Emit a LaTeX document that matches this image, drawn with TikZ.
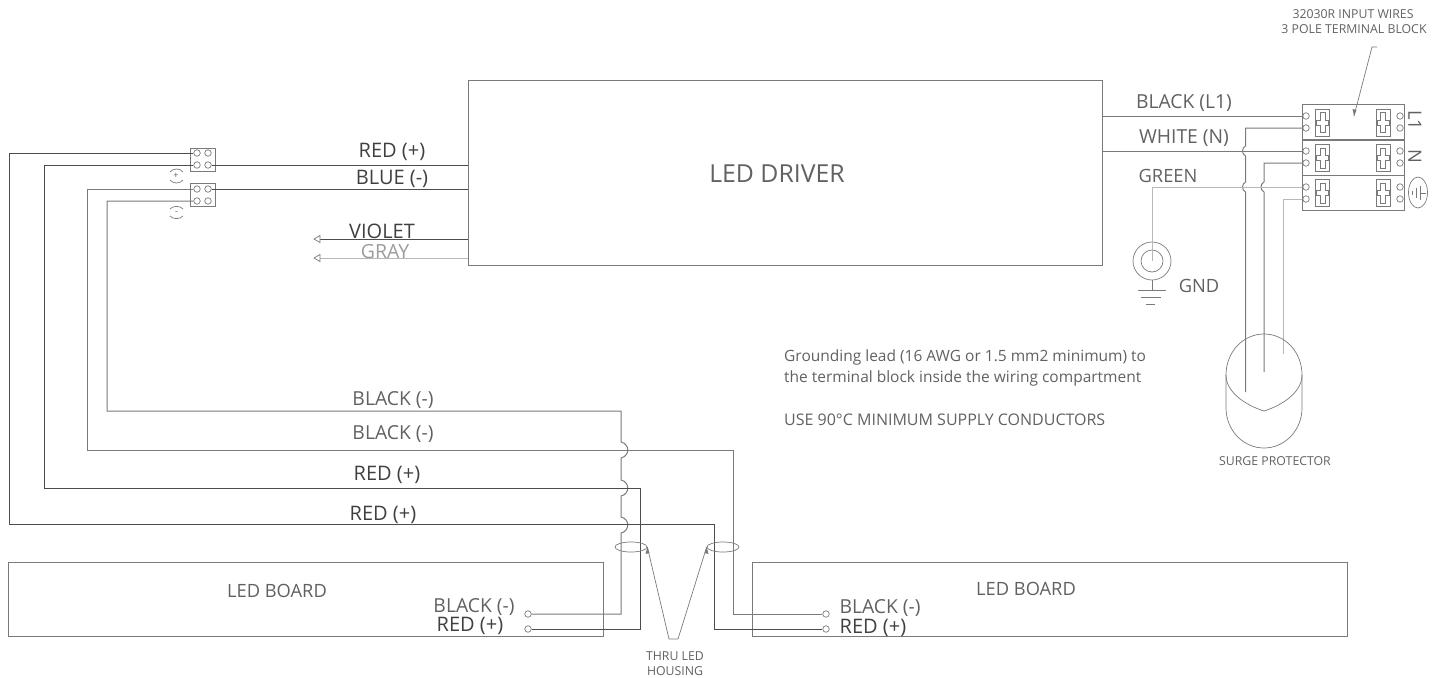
\documentclass[tikz,border=0pt]{standalone}
\usepackage{fontspec}
\setmainfont{Open Sans}
\usetikzlibrary{shapes.geometric,calc}
\definecolor{wdark}{gray}{0.30}
\definecolor{wmid}{gray}{0.48}
\definecolor{wlight}{gray}{0.72}
\definecolor{txt}{gray}{0.38}
\newcommand{\JumpR}[2]{-- (#1,#2-8) .. controls (#1+9,#2-6) and (#1+9,#2+6) .. (#1,#2+8)}
\newcommand{\JumpL}[2]{-- (#1,#2-5) .. controls (#1-4,#2-3) and (#1-4,#2+3) .. (#1,#2+5)}
\tikzset{
  wire/.style={draw=wmid,line width=1pt},
  darkwire/.style={draw=wdark,line width=1pt},
  lightwire/.style={draw=wlight,line width=1pt},
  box/.style={draw=wmid,line width=1pt,fill=none},
  thin line/.style={draw=wmid,line width=0.7pt},
  lug/.style={circle,draw=wmid,line width=0.7pt,minimum size=6.5pt,inner sep=0pt},
  lab/.style={inner sep=0pt,text=txt,font=\fontsize{19.3}{19.3}\selectfont,anchor=center},
  labs/.style={lab,font=\fontsize{18.3}{18.3}\selectfont},
  darklab/.style={lab,text=black!75,font=\fontsize{20}{20}\selectfont},
  note/.style={inner sep=0pt,text=txt,font=\fontsize{15.5}{15.5}\selectfont,anchor=west},
  cad/.style={inner sep=0pt,text=txt,font=\fontsize{12.3}{12.3}\selectfont,anchor=center},
  opentip/.style={draw=wmid,line width=0.7pt,fill=white},
}
\begin{document}
\begin{tikzpicture}[x=1pt,y=-1pt]
\useasboundingbox (0,0) rectangle (1447,677);
% main boxes
\node[box,minimum width=634pt,minimum height=185pt,inner sep=0pt] (driver) at (785,172.5) {};
\node[lab,font=\fontsize{24.8}{24.8}\selectfont] (drivert) at (777,174) {LED DRIVER};
\node[box,minimum width=595pt,minimum height=74pt,inner sep=0pt] (boardL) at (305.5,599) {};
\node[box,minimum width=595pt,minimum height=74pt,inner sep=0pt] (boardR) at (1049.5,599) {};
\node[labs] (boardLt) at (277,591) {LED BOARD};
\node[labs] (boardRt) at (1026,589) {LED BOARD};
% left connectors
\node[box,minimum width=25pt,minimum height=23pt,inner sep=0pt] (c1) at (202.5,159.5) {};
\node[box,minimum width=25pt,minimum height=23pt,inner sep=0pt] (c2) at (202.5,194.5) {};
\node[lug] (a1) at (197,153) {}; \node[lug] (a2) at (208,153) {};
\node[lug] (a3) at (197,165) {}; \node[lug] (a4) at (208,165) {};
\node[lug] (b1) at (197,189) {}; \node[lug] (b2) at (208,189) {};
\node[lug] (b3) at (197,201) {}; \node[lug] (b4) at (208,201) {};
\draw[thin line] (170,172) .. controls (173,168) and (180,168) .. (183,172);
\draw[thin line] (170,180) .. controls (173,184) and (180,184) .. (183,180);
\draw[thin line] (170,209) .. controls (173,205.5) and (180,205.5) .. (183,209);
\draw[thin line] (170,216) .. controls (173,219.5) and (180,219.5) .. (183,216);
\node[inner sep=0pt,text=txt,font=\fontsize{9}{9}\selectfont] (plus) at (176,176) {+};
\node[inner sep=0pt,text=txt,font=\fontsize{9}{9}\selectfont] (minus) at (176.5,213) {-};
% driver outputs
\coordinate (rd) at (468,165); \coordinate (bd) at (468,189);
\coordinate (vd) at (468,239); \coordinate (gd) at (468,258);
\draw[darkwire] (a4.east) -- (rd);
\draw[darkwire] (b2.east) -- (bd);
\coordinate (vt) at (320,239); \coordinate (gt) at (320,258);
\draw[darkwire] (vd) -- (vt);
\draw[lightwire] (gd) -- (gt);
\draw[opentip] (vt) -- (320,235.5) -- (314,239) -- (320,242.5) -- cycle;
\draw[opentip] (gt) -- (320,254.5) -- (314,258) -- (320,261.5) -- cycle;
\node[darklab] (redt) at (392,152) {RED (+)};
\node[darklab] (bluet) at (392,179) {BLUE (-)};
\node[darklab] (violet) at (382,231.5) {VIOLET};
\node[lab,text=wlight!85!black,font=\fontsize{19.5}{19.5}\selectfont] (gray) at (385,251.5) {GRAY};
% LED board lugs
\node[lug] (l1) at (528,614) {}; \node[lug] (l2) at (528,629) {};
\node[lug] (r1) at (826,614) {}; \node[lug] (r2) at (826,629) {};
% long wires
\draw[wire] (b3.west) -- (107,201) -- (107,411) -- (621,411)
  \JumpR{621}{450} \JumpR{621}{488} \JumpR{621}{525} -- (621,614) -- (l1.east);
\draw[wire] (b1.west) -- (87,189) -- (87,450) -- (733,450) -- (733,614) -- (r1.west);
\draw[darkwire] (a3.west) -- (44,165) -- (44,488) -- (640,488) -- (640,629) -- (l2.east);
\draw[darkwire] (a1.west) -- (9,153) -- (9,524.5) -- (714,524.5) -- (714,629) -- (r2.west);
\node[lab] (k1) at (393,400) {BLACK (-)};
\node[lab] (k2) at (393,434) {BLACK (-)};
\node[darklab] (k3) at (387,475) {RED (+)};
\node[darklab] (k4) at (383,515) {RED (+)};
\node[lab] (k5) at (474,607) {BLACK (-)};
\node[darklab] (k6) at (470,626) {RED (+)};
\node[lab] (k7) at (880,608) {BLACK (-)};
\node[darklab] (k8) at (873,628) {RED (+)};
% thru housing
\node[ellipse,draw=wmid,line width=0.7pt,minimum width=32pt,minimum height=10pt,inner sep=0pt] (eL) at (631,547) {};
\node[ellipse,draw=wmid,line width=0.7pt,minimum width=32pt,minimum height=10pt,inner sep=0pt] (eR) at (723,547) {};
\coordinate (v1) at (669,639); \coordinate (v2) at (678,639);
\draw[thin line] (eL.east) -- (v1) -- (v2) -- (eR.west);
\fill[wmid] (eL.east) -- (645.5,554) -- (649.5,553) -- cycle;
\fill[wmid] (eR.west) -- (708.5,554) -- (704.5,553) -- cycle;
\node[cad] (thru) at (675,656) {THRU LED};
\node[cad] (hous) at (675,671) {HOUSING};
% terminal block
\node[box,minimum width=102pt,minimum height=35.5pt,inner sep=0pt] (t1) at (1353,122) {};
\node[box,minimum width=102pt,minimum height=35pt,inner sep=0pt] (t2) at (1353,157.5) {};
\node[box,minimum width=102pt,minimum height=35pt,inner sep=0pt] (t3) at (1353,192.5) {};
\node[lug] (tl1) at (1306,116) {}; \node[lug] (tl2) at (1306,128) {};
\node[lug] (tl3) at (1306,151) {}; \node[lug] (tl4) at (1306,163) {};
\node[lug] (tl5) at (1306,187) {}; \node[lug] (tl6) at (1306,199) {};
\node[lug] (tr1) at (1400,116) {}; \node[lug] (tr2) at (1400,128) {};
\node[lug] (tr3) at (1400,151) {}; \node[lug] (tr4) at (1400,163) {};
\node[lug] (tr5) at (1400,187) {}; \node[lug] (tr6) at (1400,199) {};
\foreach \cx in {1322.5,1383}{
  \foreach \cy in {122.5,158,193}{
    \draw[thin line] (\cx-7,\cy-13.5) rectangle (\cx+7,\cy+13.5);
    \draw[thin line] (\cx-2.5,\cy-10) -- (\cx+2.5,\cy-10) -- (\cx+2.5,\cy-2.5) -- (\cx+6,\cy-2.5) -- (\cx+6,\cy+2.5)
      -- (\cx+2.5,\cy+2.5) -- (\cx+2.5,\cy+10) -- (\cx-2.5,\cy+10) -- (\cx-2.5,\cy+2.5) -- (\cx-6,\cy+2.5) -- (\cx-6,\cy-2.5) -- (\cx-2.5,\cy-2.5) -- cycle;
  }
}
\node[labs,rotate=-90] (L1t) at (1415,120) {L1};
\node[labs,rotate=-90] (Nt) at (1415,156) {N};
\node[ellipse,draw=wmid,line width=0.7pt,minimum width=19pt,minimum height=31pt,inner sep=0pt] (pe) at (1418,192.5) {};
\draw[thin line] (1426,193) -- (1420,193);
\draw[thin line] (1420,186) -- (1420,200);
\draw[thin line] (1416,188) -- (1416,198);
\draw[thin line] (1412,191) -- (1412,195);
% leader
\coordinate (lead0) at (1377,47); \coordinate (lead1) at (1372,47); \coordinate (lead2) at (1354,116);
\draw[thin line] (lead0) -- (lead1) -- (lead2);
\fill[wmid] (lead2) -- (1352.5,109) -- (1356.5,110) -- cycle;
\node[cad] (tt1) at (1353,14) {32030R INPUT WIRES};
\node[cad] (tt2) at (1354,29) {3 POLE TERMINAL BLOCK};
% input wires
\coordinate (dl) at (1102,116); \coordinate (dn) at (1102,151);
\draw[wire] (dl) -- (tl1.west);
\draw[wire] (dn) -- (tl3.west);
\node[lab] (bl1) at (1184,103) {BLACK (L1)};
\node[lab] (wn) at (1184,138) {WHITE (N)};
\node[labs] (gr) at (1168,176) {GREEN};
% surge protector wires
\coordinate (s1) at (1245.5,392); \coordinate (s2) at (1264,372); \coordinate (s3) at (1283,354);
\draw[wire] (tl2.west) -- (1245.5,128) \JumpL{1245.5}{151} \JumpL{1245.5}{187} -- (s1);
\draw[wire] (tl4.west) -- (1264,163) \JumpL{1264}{187} -- (s2);
\draw[lightwire] (tl6.west) -- (1283,199) -- (s3);
% ground
\node[circle,draw=wmid,line width=0.7pt,minimum size=38pt,inner sep=0pt] (gndo) at (1152,261) {};
\node[circle,draw=wmid,line width=0.7pt,minimum size=22pt,inner sep=0pt] (gndi) at (1152,261) {};
\draw[lightwire] (tl5.west) -- (1152,187) -- (gndi.center);
\coordinate (g1) at (1152,290);
\draw[thin line] (gndo.south) -- (g1);
\draw[thin line] (1138,290) -- (1166,290);
\draw[thin line] (1141,297) -- (1161,297);
\draw[thin line] (1146,304) -- (1155,304);
\node[labs] (gndt) at (1199,286) {GND};
% surge body
\draw[thin line] (1226,375) .. controls (1226,352) and (1243,334) .. (1264,334) .. controls (1285,334) and (1302,352) .. (1302,375)
  .. controls (1302,392) and (1283,405) .. (1264,411) .. controls (1245,405) and (1226,392) .. (1226,375) -- cycle;
\draw[thin line] (1226,375) -- (1226,408) .. controls (1226,430) and (1243,448) .. (1264,448) .. controls (1285,448) and (1302,430) .. (1302,408) -- (1302,375);
\node[cad] (sp) at (1275,461) {SURGE PROTECTOR};
% notes
\node[note] (n1) at (784,357.5) {Grounding lead (16 AWG or 1.5 mm2 minimum) to};
\node[note] (n2) at (784,378.5) {the terminal block inside the wiring compartment};
\node[note,font=\fontsize{16}{16}\selectfont] (n3) at (784,419.5) {USE 90°C MINIMUM SUPPLY CONDUCTORS};
\end{tikzpicture}
\end{document}
